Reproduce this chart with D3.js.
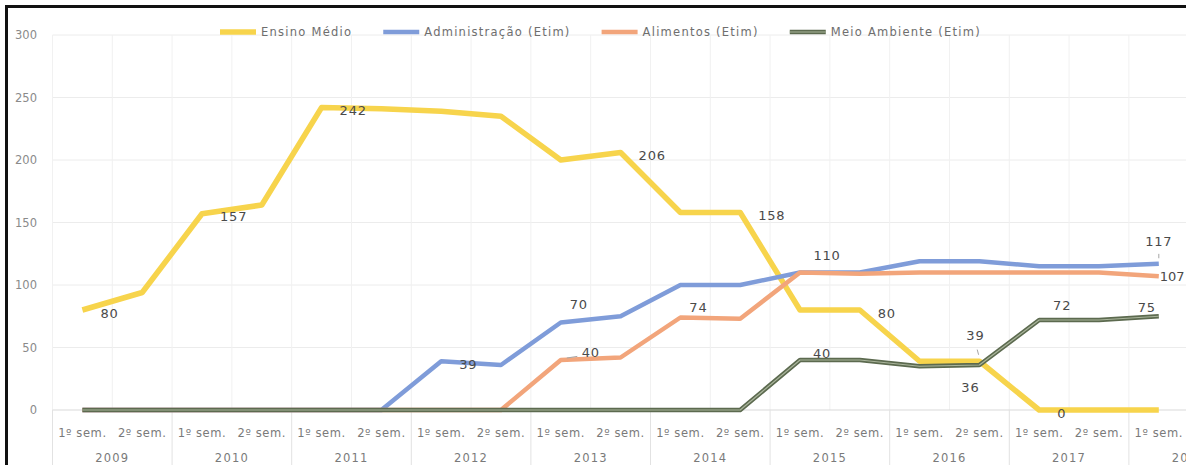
<!DOCTYPE html>
<html>
<head>
<meta charset="utf-8">
<script src="https://cdn.jsdelivr.net/npm/d3@7"></script>
<style>
  html, body { margin: 0; padding: 0; background: #fff; }
  svg { display: block; }
  text { font-family: "DejaVu Sans", sans-serif; }
</style>
</head>
<body>
<svg id="chart" width="1186" height="465"></svg>
<script>
// Semesters on the x axis (the 2018 group only has its first semester)
const yearLabels = ["2009", "2010", "2011", "2012", "2013", "2014", "2015", "2016", "2017", "2018"];
const semesterLabels = ["1º sem.", "2º sem."];
const yTicks = [0, 50, 100, 150, 200, 250, 300];

// Enrolment per semester for each course
const ensinoMedio   = [80, 94, 157, 164, 242, 241, 239, 235, 200, 206, 158, 158, 80, 80, 39, 39, 0, 0, 0];
const administracao = [0, 0, 0, 0, 0, 0, 39, 36, 70, 75, 100, 100, 110, 110, 119, 119, 115, 115, 117];
const alimentos     = [0, 0, 0, 0, 0, 0, 0, 0, 40, 42, 74, 73, 110, 109, 110, 110, 110, 110, 107];
const meioAmbiente  = [0, 0, 0, 0, 0, 0, 0, 0, 0, 0, 0, 0, 40, 40, 35, 36, 72, 72, 75];

const seriesNames = ["Ensino Médio", "Administração (Etim)", "Alimentos (Etim)", "Meio Ambiente (Etim)"];

const categories = yearLabels
  .flatMap(y => semesterLabels.map(s => ({ year: y, sem: s })))
  .slice(0, ensinoMedio.length);

const series = [
  { name: seriesNames[0], values: ensinoMedio,   color: "#f7d44c", width: 5.5 },
  { name: seriesNames[1], values: administracao, color: "#7f9cd9", width: 4.5 },
  { name: seriesNames[2], values: alimentos,     color: "#f2a57b", width: 4.5 },
  { name: seriesNames[3], values: meioAmbiente,  color: "#5c6a4f", width: 4.5, inner: "#aab59c" }
];

// Which points carry a value label and where it sits relative to the point
const labelPlacement = [
  { s: 0, i: 0, pos: "right" }, { s: 0, i: 2, pos: "right" }, { s: 0, i: 4, pos: "right" },
  { s: 0, i: 9, pos: "right" }, { s: 0, i: 11, pos: "right" }, { s: 0, i: 13, pos: "right" },
  { s: 0, i: 15, dx: -4, dy: -26, leader: true }, { s: 0, i: 16, pos: "right" },
  { s: 1, i: 6, pos: "right" }, { s: 1, i: 8, dx: 18, dy: -18 },
  { s: 1, i: 18, dx: 0, dy: -22, leader: true },
  { s: 2, i: 8, dx: 30, dy: -8, leader: true }, { s: 2, i: 10, dx: 18, dy: -10 },
  { s: 2, i: 12, dx: 27, dy: -17 }, { s: 2, i: 18, pos: "right", start: 1, dy: 0, tight: true },
  { s: 3, i: 12, dx: 22, dy: -7 }, { s: 3, i: 15, dx: -9, dy: 22 },
  { s: 3, i: 16, dx: 23, dy: -15 }, { s: 3, i: 18, dx: -12, dy: -9 }
];

const svg = d3.select("#chart");
const plotLeft = 52.5, step = 59.8, plotTop = 35, plotBottom = 410;

const x = d3.scaleBand()
  .domain(d3.range(categories.length))
  .range([plotLeft, plotLeft + step * categories.length])
  .padding(0);
const cx = i => x(i) + x.bandwidth() / 2;
const y = d3.scaleLinear().domain([0, 300]).range([plotBottom, plotTop]);
const plotRight = plotLeft + step * categories.length;

// Outer frame
svg.append("rect")
  .attr("x", 6.5).attr("y", 6.5).attr("width", 1400).attr("height", 600)
  .attr("fill", "none").attr("stroke", "#111").attr("stroke-width", 3);

// Horizontal gridlines
svg.append("g").selectAll("line").data(yTicks.filter(t => t > 0)).join("line")
  .attr("x1", plotLeft).attr("x2", plotRight)
  .attr("y1", d => y(d)).attr("y2", d => y(d))
  .attr("stroke", "#ececec").attr("stroke-width", 1);

// Vertical gridlines at every semester boundary
svg.append("g").selectAll("line").data(d3.range(categories.length + 1)).join("line")
  .attr("x1", i => plotLeft + i * x.bandwidth()).attr("x2", i => plotLeft + i * x.bandwidth())
  .attr("y1", plotTop).attr("y2", plotBottom)
  .attr("stroke", "#f1f1f1").attr("stroke-width", 1);

// Base line
svg.append("line")
  .attr("x1", plotLeft).attr("x2", plotRight)
  .attr("y1", y(0)).attr("y2", y(0))
  .attr("stroke", "#d9d9d9").attr("stroke-width", 1);

// Y axis labels
svg.append("g").selectAll("text").data(yTicks).join("text")
  .attr("x", 37).attr("y", d => y(d)).attr("dy", "0.35em")
  .attr("text-anchor", "end").attr("font-size", 11.5).attr("fill", "#8a8a8a")
  .text(d => d);

// X axis: semester row, year row and year separators
const axisG = svg.append("g");
axisG.selectAll("text.sem").data(categories).join("text")
  .attr("class", "sem")
  .attr("x", (d, i) => cx(i)).attr("y", 433).attr("dy", "0.35em")
  .attr("text-anchor", "middle").attr("font-size", 11.5).attr("letter-spacing", 0.6)
  .attr("fill", "#7a7a7a").text(d => d.sem);

const yearIdx = d3.range(0, categories.length, semesterLabels.length);
axisG.selectAll("text.year").data(yearIdx).join("text")
  .attr("class", "year")
  .attr("x", i => x(i) + x.bandwidth()).attr("y", 458).attr("dy", "0.35em")
  .attr("text-anchor", "middle").attr("font-size", 11.5).attr("letter-spacing", 1.2)
  .attr("fill", "#7a7a7a").text(i => categories[i].year);

axisG.selectAll("line").data(yearIdx.concat([categories.length + 1])).join("line")
  .attr("x1", i => plotLeft + i * x.bandwidth()).attr("x2", i => plotLeft + i * x.bandwidth())
  .attr("y1", plotBottom).attr("y2", 465)
  .attr("stroke", "#e2e2e2").attr("stroke-width", 1);

// Lines
const line = d3.line().x((d, i) => cx(i)).y(d => y(d));
const linesG = svg.append("g");
series.forEach(s => {
  linesG.append("path").datum(s.values)
    .attr("d", line).attr("fill", "none")
    .attr("stroke", s.color).attr("stroke-width", s.width)
    .attr("stroke-linejoin", "round").attr("stroke-linecap", "butt");
  if (s.inner) {
    linesG.append("path").datum(s.values)
      .attr("d", line).attr("fill", "none")
      .attr("stroke", s.inner).attr("stroke-width", 1.2)
      .attr("stroke-linejoin", "round");
  }
});

// Value labels
const labelsG = svg.append("g");
labelPlacement.forEach(p => {
  const v = series[p.s].values[p.i];
  const px = cx(p.i), py = y(v);
  let tx, ty, anchor;
  if (p.pos === "right") {
    tx = px + (p.start !== undefined ? p.start : 18);
    ty = py + (p.dy !== undefined ? p.dy : 3);
    anchor = "start";
  } else {
    tx = px + p.dx; ty = py + p.dy; anchor = "middle";
  }
  if (p.leader) {
    const lx = px + p.dx * 0.55, ly = py + p.dy * 0.45;
    labelsG.append("line")
      .attr("x1", px + p.dx * 0.2).attr("y1", py + p.dy * 0.25)
      .attr("x2", lx).attr("y2", ly)
      .attr("stroke", "#a6a6a6").attr("stroke-width", 1);
  }
  labelsG.append("text")
    .attr("x", tx).attr("y", ty).attr("dy", "0.35em")
    .attr("text-anchor", anchor).attr("font-size", 13)
    .attr("letter-spacing", p.tight ? 0 : 0.8)
    .attr("fill", "#4a4a4a").text(v);
});

// Legend
const legendG = svg.append("g").attr("transform", "translate(220,32)");
let lx = 0;
series.forEach(s => {
  const item = legendG.append("g").attr("transform", `translate(${lx},0)`);
  item.append("line").attr("x1", 0).attr("x2", 36).attr("y1", 0).attr("y2", 0)
    .attr("stroke", s.color).attr("stroke-width", s.width);
  if (s.inner) {
    item.append("line").attr("x1", 0).attr("x2", 36).attr("y1", 0).attr("y2", 0)
      .attr("stroke", s.inner).attr("stroke-width", 1.2);
  }
  const t = item.append("text").attr("x", 41).attr("y", 0).attr("dy", "0.35em")
    .attr("font-size", 11.5).attr("letter-spacing", 1.25).attr("fill", "#6e6e6e")
    .text(s.name);
  lx += 41 + t.node().getComputedTextLength() + 31;
});
</script>
</body>
</html>
